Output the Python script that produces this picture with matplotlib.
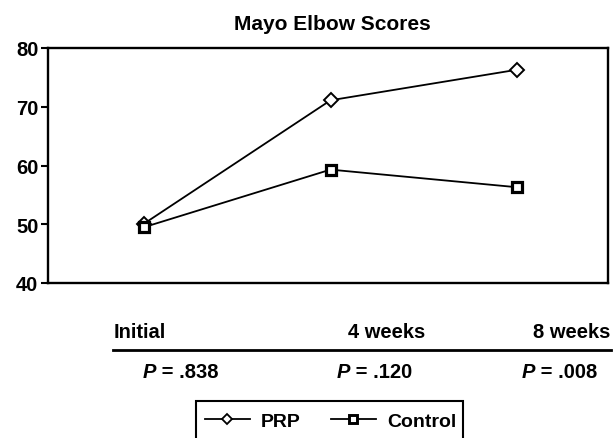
import matplotlib
matplotlib.use("Agg")
import matplotlib.pyplot as plt
from matplotlib.lines import Line2D
from matplotlib.patches import Rectangle

plt.rcParams['font.family'] = ['Liberation Sans', 'DejaVu Sans']

# ---- data ----
categories = ["Initial", "4 weeks", "8 weeks"]
p_values = [".838", ".120", ".008"]
prp = [50.1, 71.1, 76.3]
control = [49.5, 59.3, 56.3]
series_names = ["PRP", "Control"]
yticks = [40, 50, 60, 70, 80]
title = "Mayo Elbow Scores"

W, H = 613, 439
fig = plt.figure(figsize=(W / 100, H / 100), dpi=100)

def fx(px):
    return px / W

def fy(py):
    return 1 - py / H

ax = fig.add_axes([fx(48), fy(284), fx(608) - fx(48), fy(49) - fy(284)])
xs = list(range(len(categories)))
ax.plot(xs, prp, color='black', lw=1.3, marker='D', markersize=7.5,
        markerfacecolor='white', markeredgecolor='black', markeredgewidth=1.4,
        zorder=3)
ax.plot(xs, control, color='black', lw=1.3, marker='s', markersize=7,
        markerfacecolor='white', markeredgecolor='black', markeredgewidth=2.3,
        zorder=4)

ax.set_xlim(-0.515, 2.488)
ax.set_ylim(40, 80)
ax.set_yticks(yticks)
ax.set_yticklabels([str(t) for t in yticks], fontsize=14.5, fontweight='bold')
ax.set_xticks([])
ax.tick_params(axis='y', direction='out', length=5, width=1.5, pad=2)
for s in ax.spines.values():
    s.set_linewidth(1.7)

fig.text(fx(332), fy(25), title, ha='center', va='center',
         fontsize=15, fontweight='bold')

# ---- table under chart ----
hdr_y = fy(333)
fig.text(fx(114), hdr_y, categories[0], ha='left', va='center', fontsize=14.5, fontweight='bold')
fig.text(fx(387), hdr_y, categories[1], ha='center', va='center', fontsize=14.5, fontweight='bold')
fig.text(fx(610), hdr_y, categories[2], ha='right', va='center', fontsize=14.5, fontweight='bold')
fig.add_artist(Line2D([fx(113), fx(611)], [fy(351), fy(351)], color='black', lw=2.0))

p_lefts = [143, 337, 522]
for xl, pv in zip(p_lefts, p_values):
    t = fig.text(fx(xl), fy(373), "P", ha='left', va='center', fontsize=14.5,
                 fontweight='bold', fontstyle='italic')
    ax.annotate(" = " + pv, xy=(1, 0), xycoords=t, va='bottom', ha='left',
                fontsize=14.5, fontweight='bold', annotation_clip=False)

# ---- legend ----
handles = [
    Line2D([], [], color='black', lw=1.3, marker='D', markersize=5.5,
           markerfacecolor='white', markeredgecolor='black', markeredgewidth=1.3),
    Line2D([], [], color='black', lw=1.3, marker='s', markersize=6,
           markerfacecolor='white', markeredgecolor='black', markeredgewidth=2.1),
]
leg = fig.legend(handles, series_names, loc='center left',
                 bbox_to_anchor=(fx(199), fy(422)), ncol=2, frameon=False,
                 fontsize=14, handlelength=2.3, handletextpad=0.6,
                 columnspacing=1.55, borderpad=0.3, borderaxespad=0)
for txt in leg.get_texts():
    txt.set_fontweight('bold')
fig.add_artist(Rectangle((fx(196), fy(446)), fx(463) - fx(196), fy(402) - fy(446),
                         transform=fig.transFigure, fill=False,
                         edgecolor='black', linewidth=1.5))

fig.savefig("out.png", dpi=100)
